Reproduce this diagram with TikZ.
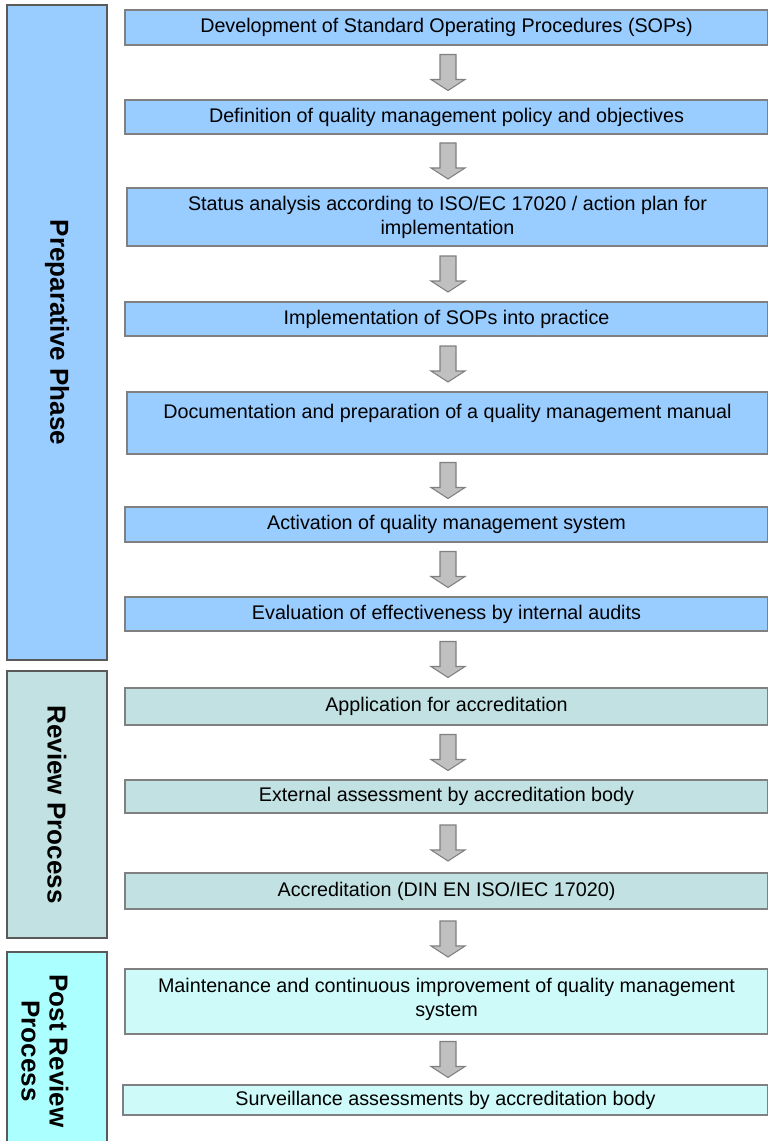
\documentclass[tikz,border=0pt]{standalone}
\usepackage{fontspec}
\setmainfont{Liberation Sans}
\usetikzlibrary{calc}
\definecolor{prepblue}{RGB}{153,204,255}
\definecolor{reviewteal}{RGB}{193,225,227}
\definecolor{postcyan}{RGB}{172,255,255}
\definecolor{postbox}{RGB}{206,250,250}
\definecolor{boxline}{RGB}{128,128,128}
\definecolor{barline}{RGB}{90,90,90}
\definecolor{arrowgray}{RGB}{192,192,192}
\newcommand{\flowarrow}[2]{%
  \draw[blockarrow] ($(axis |- #1.south)!.5!(axis |- #2.north)$) ++(-8,-18) -- ++(16,0) -- ++(0,25) -- ++(9,0) -- ++(-17,11) -- ++(-17,-11) -- ++(9,0) -- cycle;}
\begin{document}
\begin{tikzpicture}[x=0.75pt,y=-0.75pt,
    stepbox/.style={draw=boxline,line width=1.1pt,inner sep=0pt,align=center,minimum width=482.25pt,font=\fontsize{14.8}{18}\selectfont},
    phasebar/.style={draw=barline,line width=0.8pt,inner sep=0pt,minimum width=75pt},
    phaselabel/.style={rotate=-90,align=center,font=\fontsize{19.5}{21}\selectfont\bfseries},
    blockarrow/.style={draw=boxline,fill=arrowgray,line width=0.8pt,line join=miter}]
    \useasboundingbox (0,0) rectangle (767,1141);
    \coordinate (axis) at (448,0);
    % phases
    \node[phasebar,fill=prepblue,minimum height=491.25pt] (prep) at (57,332.5) {};
    \node[phasebar,fill=reviewteal,minimum height=200.25pt] (review) at (57,804.5) {};
    \node[phasebar,fill=postcyan,minimum height=148.5pt] (post) at (57,1051) {};
    \node[phaselabel] (preplabel) at (prep.center) {Preparative Phase};
    \node[phaselabel] (reviewlabel) at (review.center) {Review Process};
    \node[phaselabel] (postlabel) at ($(post.center)+(-12,0)$) {Post Review\\Process};
    % steps
    \node[stepbox,fill=prepblue,minimum height=26.25pt] (sop) at (446.5,27.5) {Development of Standard Operating Procedures (SOPs)};
    \node[stepbox,fill=prepblue,minimum height=25.5pt] (policy) at (446.5,117) {Definition of quality management policy and objectives};
    \node[stepbox,fill=prepblue,minimum height=43.5pt,minimum width=480.75pt] (status) at (447.5,217) {Status analysis according to ISO/EC 17020 / action plan for\\implementation};
    \node[stepbox,fill=prepblue,minimum height=25.5pt] (practice) at (446.5,319) {Implementation of SOPs into practice};
    \node[stepbox,fill=prepblue,minimum height=46.5pt,minimum width=480.75pt] (manual) at (447.5,423) {Documentation and preparation of a quality management manual\\\mbox{}};
    \node[stepbox,fill=prepblue,minimum height=26.25pt] (activate) at (446.5,524.5) {Activation of quality management system};
    \node[stepbox,fill=prepblue,minimum height=25.5pt] (audit) at (446.5,614) {Evaluation of effectiveness by internal audits};
    \node[stepbox,fill=reviewteal,minimum height=27.75pt] (apply) at (446.5,706.5) {Application for accreditation};
    \node[stepbox,fill=reviewteal,minimum height=24.75pt] (assess) at (446.5,796.5) {External assessment by accreditation body};
    \node[stepbox,fill=reviewteal,minimum height=27pt] (accredit) at (446.5,891) {Accreditation (DIN EN ISO/IEC 17020)};
    \node[stepbox,fill=postbox,minimum height=48.75pt] (improve) at (446.5,1001.5) {Maintenance and continuous improvement of quality management\\system\\[-12pt]\mbox{}};
    \node[stepbox,fill=postbox,minimum height=22.5pt,minimum width=483.75pt] (survey) at (445.5,1100) {Surveillance assessments by accreditation body};
    % arrows
    \flowarrow{sop}{policy}
    \flowarrow{policy}{status}
    \flowarrow{status}{practice}
    \flowarrow{practice}{manual}
    \flowarrow{manual}{activate}
    \flowarrow{activate}{audit}
    \flowarrow{audit}{apply}
    \flowarrow{apply}{assess}
    \flowarrow{assess}{accredit}
    \flowarrow{accredit}{improve}
    \flowarrow{improve}{survey}
\end{tikzpicture}
\end{document}
